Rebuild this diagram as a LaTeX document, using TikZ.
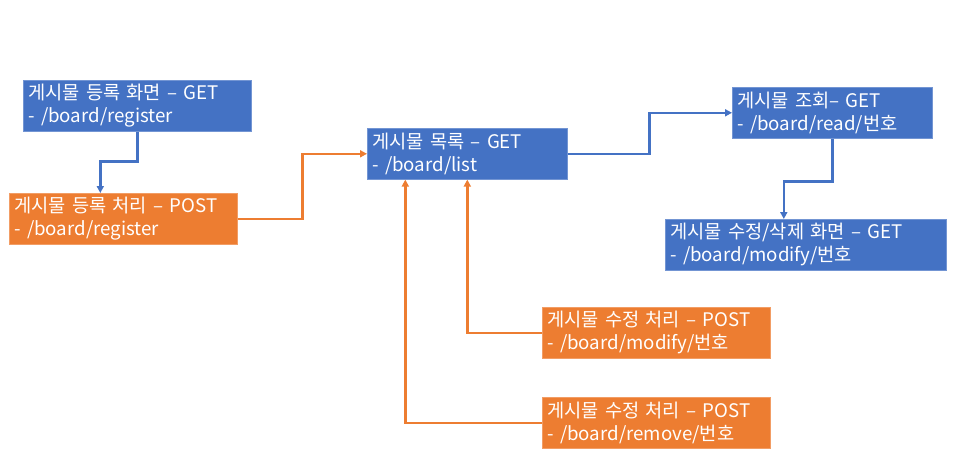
\documentclass[tikz,border=0pt]{standalone}
\usepackage{fontspec}
\setmainfont[WordSpace=1.7]{Noto Sans CJK KR}
\usepackage{tikz}
\usetikzlibrary{arrows.meta,positioning,calc}
\definecolor{qblue}{RGB}{68,114,196}
\definecolor{qorange}{RGB}{237,125,49}

\begin{document}
\begin{tikzpicture}[x=1pt,y=-1pt,font=\fontsize{18.7}{23}\selectfont,
  getbox/.style={draw=qblue!75!white,line width=0.6pt,fill=qblue,text=white,anchor=north west,
    inner xsep=5pt,inner ysep=0pt,minimum height=51pt,align=left},
  postbox/.style={draw=qorange!75!white,line width=0.6pt,fill=qorange,text=white,anchor=north west,
    inner xsep=5pt,inner ysep=0pt,minimum height=51pt,align=left},
  barr/.style={-{Triangle[length=7pt,width=7pt]},line width=2.5pt,qblue},
  oarr/.style={-{Triangle[length=7pt,width=7pt]},line width=2.5pt,qorange}]
\useasboundingbox (0,0) rectangle (960,458);
\node[getbox,text width=218pt]  (regform) at (23,80)   {게시물 등록 화면 – GET\\- /board/register};
\node[postbox,text width=218pt] (regpost) at (9,193)   {게시물 등록 처리 – POST\\- /board/register};
\node[getbox,text width=190pt]  (list)    at (367,128) {게시물 목록 – GET\\- /board/list};
\node[getbox,text width=190pt]  (read)    at (732,87)  {게시물 조회– GET\\- /board/read/번호};
\node[getbox,text width=271pt]  (modform) at (665,219) {게시물 수정/삭제 화면 – GET\\- /board/modify/번호};
\node[postbox,text width=218pt] (modpost) at (542,307) {게시물 수정 처리 – POST\\- /board/modify/번호};
\node[postbox,text width=218pt] (rempost) at (542,397) {게시물 수정 처리 – POST\\- /board/remove/번호};
\draw[barr] (regform.south) -- ++(0,30) -| ([xshift=-23pt]regpost.north);
\draw[oarr] (regpost.east) -- ++(65,0) |- (list.west);
\draw[barr] (list.east) -- ++(82,0) |- (read.west);
\draw[barr] (read.south) -- ++(0,43) -| ([xshift=-22pt]modform.north);
\draw[oarr] (modpost.west) -| (list.south);
\draw[oarr] (rempost.west) -| ([xshift=-62pt]list.south);
\end{tikzpicture}
\end{document}
